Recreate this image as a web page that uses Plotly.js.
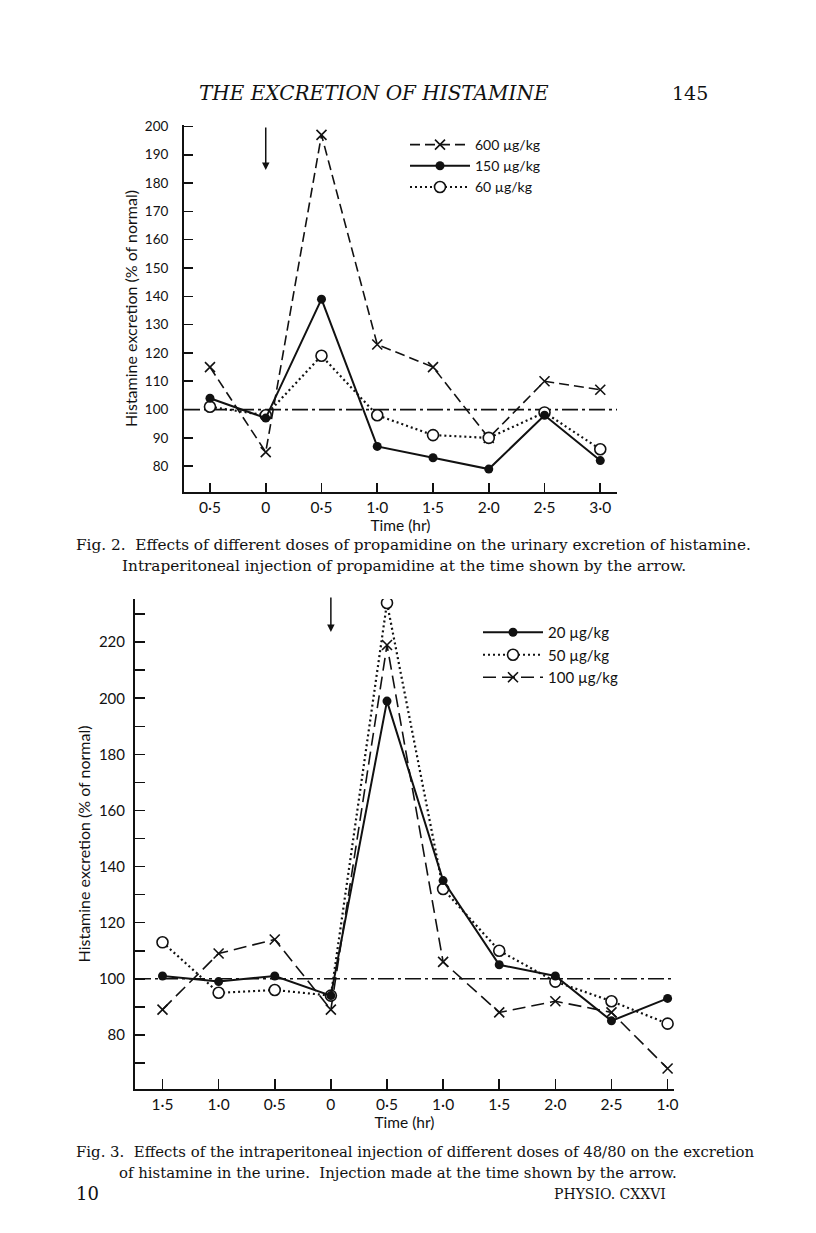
<!DOCTYPE html>
<html>
<head>
<meta charset="utf-8">
<script src="https://cdn.plot.ly/plotly-3.0.1.min.js"></script>
<style>
html,body{margin:0;padding:0;background:#fff;}
#chart{width:816px;height:1233px;}
</style>
</head>
<body>
<div id="chart"></div>
<script>
// ---------- Fig. 2 data (propamidine) ----------
const fig2Time = [-0.5, 0, 0.5, 1.0, 1.5, 2.0, 2.5, 3.0];
const fig2TickText = ['0·5', '0', '0·5', '1·0', '1·5', '2·0', '2·5', '3·0'];
const fig2Dose600 = [115, 85, 197, 123, 115, 90, 110, 107];
const fig2Dose150 = [104, 97, 139, 87, 83, 79, 98, 82];
const fig2Dose60 = [101, 98, 119, 98, 91, 90, 99, 86];
const fig2YTicks = [80, 90, 100, 110, 120, 130, 140, 150, 160, 170, 180, 190, 200];
const fig2Names = ['600 µg/kg', '150 µg/kg', '60 µg/kg'];

// ---------- Fig. 3 data (48/80) ----------
const fig3Time = [-1.5, -1.0, -0.5, 0, 0.5, 1.0, 1.5, 2.0, 2.5, 3.0];
const fig3TickText = ['1·5', '1·0', '0·5', '0', '0·5', '1·0', '1·5', '2·0', '2·5', '1·0'];
const fig3Dose20 = [101, 99, 101, 94, 199, 135, 105, 101, 85, 93];
const fig3Dose50 = [113, 95, 96, 94, 234, 132, 110, 99, 92, 84];
const fig3Dose100 = [89, 109, 114, 89, 219, 106, 88, 92, 88, 68];
const fig3YTicks = [70, 80, 90, 100, 110, 120, 130, 140, 150, 160, 170, 180, 190, 200, 210, 220, 230];
const fig3YLabels = ['', '80', '', '100', '', '120', '', '140', '', '160', '', '180', '', '200', '', '220', ''];
const fig3Names = ['20 µg/kg', '50 µg/kg', '100 µg/kg'];

const baseline = 100;

// ---------- layout geometry ----------
const W = 816, H = 1233;
const fig2XRange = [-0.733, 3.15];
const fig2YRange = [70.9, 200.5];
const fig3XRange = [-1.745, 3.057];
const fig3YRange = [60.7, 235.4];

const SANS = 'Lato, "Open Sans", sans-serif';
const SERIF = '"DejaVu Serif", "Liberation Serif", serif';
const INK = '#111';

const circleOpen = {symbol: 'circle', size: 11, color: '#fff', line: {color: INK, width: 1.6}};
const circleFilled = {symbol: 'circle', size: 9, color: INK, line: {color: INK, width: 0}};
const crossMark = {symbol: 'x-thin-open', size: 10, color: INK, line: {color: INK, width: 1.6}};

const traces = [
  // Fig 2 baseline
  {x: fig2XRange, y: [baseline, baseline], xaxis: 'x', yaxis: 'y', mode: 'lines',
   line: {color: INK, width: 1.6, dash: '16px,4px,3px,4px'}, showlegend: false, hoverinfo: 'skip'},
  {x: fig2Time, y: fig2Dose600, xaxis: 'x', yaxis: 'y', name: fig2Names[0], mode: 'lines+markers',
   line: {color: INK, width: 1.6, dash: '10px,5px'}, marker: crossMark, legend: 'legend', legendrank: 1},
  {x: fig2Time, y: fig2Dose60, xaxis: 'x', yaxis: 'y', name: fig2Names[2], mode: 'lines+markers',
   line: {color: INK, width: 2.2, dash: '2px,3px'}, marker: circleOpen, legend: 'legend', legendrank: 3},
  {x: fig2Time, y: fig2Dose150, xaxis: 'x', yaxis: 'y', name: fig2Names[1], mode: 'lines+markers',
   line: {color: INK, width: 2}, marker: circleFilled, legend: 'legend', legendrank: 2},

  // Fig 3 baseline
  {x: fig3XRange, y: [baseline, baseline], xaxis: 'x2', yaxis: 'y2', mode: 'lines',
   line: {color: INK, width: 1.6, dash: '16px,4px,3px,4px'}, showlegend: false, hoverinfo: 'skip'},
  {x: fig3Time, y: fig3Dose100, xaxis: 'x2', yaxis: 'y2', name: fig3Names[2], mode: 'lines+markers',
   line: {color: INK, width: 1.6, dash: '13px,6px'}, marker: crossMark, legend: 'legend2', legendrank: 3},
  {x: fig3Time, y: fig3Dose50, xaxis: 'x2', yaxis: 'y2', name: fig3Names[1], mode: 'lines+markers',
   line: {color: INK, width: 2.2, dash: '2px,3px'}, marker: circleOpen, legend: 'legend2', legendrank: 2},
  {x: fig3Time, y: fig3Dose20, xaxis: 'x2', yaxis: 'y2', name: fig3Names[0], mode: 'lines+markers',
   line: {color: INK, width: 2}, marker: circleFilled, legend: 'legend2', legendrank: 1}
];

function px2x(p) { return p / W; }
function px2y(p) { return 1 - p / H; }

const axisCommon = {
  showgrid: false, zeroline: false, showline: true, linecolor: INK,
  ticks: 'inside', tickcolor: INK, color: INK, fixedrange: true
};

const layout = {
  width: W, height: H, autosize: false,
  margin: {l: 0, r: 0, t: 0, b: 0, pad: 0},
  paper_bgcolor: '#fff', plot_bgcolor: 'rgba(0,0,0,0)',
  showlegend: true,
  font: {family: SANS, color: INK},
  xaxis: Object.assign({}, axisCommon, {
    domain: [px2x(184), px2x(617)], range: fig2XRange, anchor: 'y',
    tickvals: fig2Time, ticktext: fig2TickText, ticklen: 9, tickwidth: 1.6, linewidth: 2,
    tickfont: {family: SANS, size: 15.5, color: INK}, ticklabelstandoff: 0,
    title: {text: 'Time (hr)', font: {family: SANS, size: 15.5, color: INK}, standoff: 1}
  }),
  yaxis: Object.assign({}, axisCommon, {
    domain: [px2y(492), px2y(125)], range: fig2YRange, anchor: 'x',
    tickvals: fig2YTicks, ticklen: 9, tickwidth: 1.6, linewidth: 2,
    tickfont: {family: SANS, size: 13.5, color: INK}, ticklabelstandoff: 11,
    title: {text: 'Histamine excretion (% of normal)', font: {family: SANS, size: 16, color: INK}, standoff: 3}
  }),
  xaxis2: Object.assign({}, axisCommon, {
    domain: [px2x(135), px2x(674)], range: fig3XRange, anchor: 'y2',
    tickvals: fig3Time, ticktext: fig3TickText, ticklen: 10, tickwidth: 1.6, linewidth: 2,
    tickfont: {family: SANS, size: 15.5, color: INK}, ticklabelstandoff: 0,
    title: {text: 'Time (hr)', font: {family: SANS, size: 15.5, color: INK}, standoff: 4}
  }),
  yaxis2: Object.assign({}, axisCommon, {
    domain: [px2y(1089), px2y(599)], range: fig3YRange, anchor: 'x2',
    tickvals: fig3YTicks, ticktext: fig3YLabels, ticklen: 10, tickwidth: 1.6, linewidth: 2,
    tickfont: {family: SANS, size: 15, color: INK}, ticklabelstandoff: 5,
    title: {text: 'Histamine excretion (% of normal)', font: {family: SANS, size: 16, color: INK}, standoff: 4}
  }),
  legend: {
    x: px2x(405), y: px2y(129), xanchor: 'left', yanchor: 'top',
    bgcolor: 'rgba(0,0,0,0)', borderwidth: 0, traceorder: 'normal',
    font: {family: SANS, size: 14, color: INK}, itemwidth: 60, tracegroupgap: 0
  },
  legend2: {
    x: px2x(478), y: px2y(616), xanchor: 'left', yanchor: 'top',
    bgcolor: 'rgba(0,0,0,0)', borderwidth: 0, traceorder: 'normal',
    font: {family: SANS, size: 15, color: INK}, itemwidth: 60, tracegroupgap: 0
  },
  annotations: [
    {xref: 'paper', yref: 'paper', x: px2x(374), y: px2y(93), text: '<i>THE EXCRETION OF HISTAMINE</i>',
     showarrow: false, xanchor: 'center', yanchor: 'middle', font: {family: SERIF, size: 20, color: INK}},
    {xref: 'paper', yref: 'paper', x: px2x(690), y: px2y(93), text: '145',
     showarrow: false, xanchor: 'center', yanchor: 'middle', font: {family: SERIF, size: 19, color: INK}},
    {xref: 'paper', yref: 'paper', x: px2x(74), y: px2y(545),
     text: 'Fig. 2.  Effects of different doses of propamidine on the urinary excretion of histamine.',
     showarrow: false, xanchor: 'left', yanchor: 'middle', font: {family: SERIF, size: 15.3, color: INK}},
    {xref: 'paper', yref: 'paper', x: px2x(120), y: px2y(566),
     text: 'Intraperitoneal injection of propamidine at the time shown by the arrow.',
     showarrow: false, xanchor: 'left', yanchor: 'middle', font: {family: SERIF, size: 15.3, color: INK}},
    {xref: 'paper', yref: 'paper', x: px2x(74), y: px2y(1152),
     text: 'Fig. 3.  Effects of the intraperitoneal injection of different doses of 48/80 on the excretion',
     showarrow: false, xanchor: 'left', yanchor: 'middle', font: {family: SERIF, size: 14.9, color: INK}},
    {xref: 'paper', yref: 'paper', x: px2x(117), y: px2y(1173),
     text: 'of histamine in the urine.  Injection made at the time shown by the arrow.',
     showarrow: false, xanchor: 'left', yanchor: 'middle', font: {family: SERIF, size: 14.9, color: INK}},
    {xref: 'paper', yref: 'paper', x: px2x(74), y: px2y(1193), text: '10',
     showarrow: false, xanchor: 'left', yanchor: 'middle', font: {family: SERIF, size: 18, color: INK}},
    {xref: 'paper', yref: 'paper', x: px2x(668), y: px2y(1194), text: 'PHYSIO. CXXVI',
     showarrow: false, xanchor: 'right', yanchor: 'middle', font: {family: SERIF, size: 14, color: INK}},
    // injection arrows
    {xref: 'x', yref: 'paper', x: 0, y: px2y(170), ax: 0, ay: -44, axref: 'pixel', ayref: 'pixel',
     text: '', showarrow: true, arrowhead: 2, arrowsize: 1, arrowwidth: 1.5, arrowcolor: INK},
    {xref: 'x2', yref: 'paper', x: 0, y: px2y(632), ax: 0, ay: -36, axref: 'pixel', ayref: 'pixel',
     text: '', showarrow: true, arrowhead: 2, arrowsize: 1, arrowwidth: 1.5, arrowcolor: INK}
  ]
};

Plotly.newPlot('chart', traces, layout, {staticPlot: true, displayModeBar: false});
</script>
</body>
</html>
